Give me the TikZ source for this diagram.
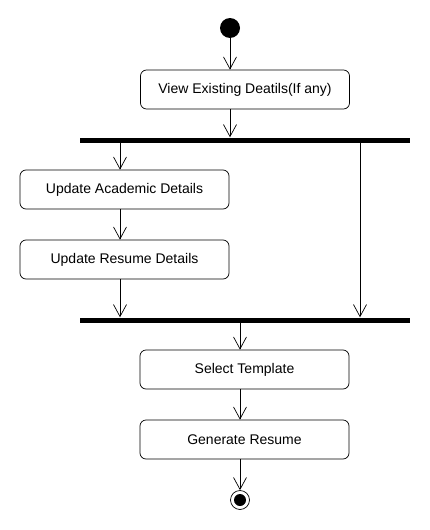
\documentclass[tikz,border=0pt]{standalone}
\usepackage{fontspec}
\setmainfont{Liberation Sans}
\usetikzlibrary{arrows.meta,positioning,calc}

\tikzset{
  activity/.style={draw, rounded corners=6pt, minimum width=209pt, minimum height=39pt,
    inner sep=0pt, font=\fontsize{14}{16}\selectfont, line width=0.7pt},
  syncbar/.style={fill=black, minimum width=330pt, minimum height=5pt, inner sep=0pt},
  flow/.style={-{Straight Barb[length=12pt,width=13pt,line width=0.7pt]}, line width=0.7pt},
}

\begin{document}
\begin{tikzpicture}[x=1pt, y=-1pt]
    \useasboundingbox (0,0) rectangle (430,530);

    % Start node
    \node[circle, fill=black, minimum size=20pt, inner sep=0pt] (start) at (230,28) {};
    \node[activity] (view) at (245,89.5) {View Existing Deatils(If any)};

    % Fork
    \node[syncbar] (fork) at (245,140) {};
    \coordinate (lcol) at (120,0);
    \coordinate (rcol) at (360,0);
    \node[activity] (academic) at (124.5,189.5) {Update Academic Details};
    \node[activity] (resume) at (124.5,259.5) {Update Resume Details};

    % Join
    \node[syncbar] (join) at (245,320) {};
    \node[activity] (template) at (244.5,369.5) {Select Template};
    \node[activity] (generate) at (244.5,439.5) {Generate Resume};

    % End node
    \node[circle, draw, line width=0.7pt, minimum size=19pt, inner sep=0pt] (stop) at (240,500) {};
    \node[circle, fill=black, minimum size=12pt, inner sep=0pt] at (stop) {};

    % Transitions
    \draw[flow] (start) -- (start |- view.north);
    \draw[flow] (view.south -| start) -- (fork.north -| start);
    \draw[flow] (fork.south -| lcol) -- (academic.north -| lcol);
    \draw[flow] (academic.south -| lcol) -- (resume.north -| lcol);
    \draw[flow] (resume.south -| lcol) -- (join.north -| lcol);
    \draw[flow] (fork.south -| rcol) -- (join.north -| rcol);
    \draw[flow] (join.south -| stop) -- (template.north -| stop);
    \draw[flow] (template.south -| stop) -- (generate.north -| stop);
    \draw[flow] (generate.south -| stop) -- (stop.north);
\end{tikzpicture}
\end{document}
